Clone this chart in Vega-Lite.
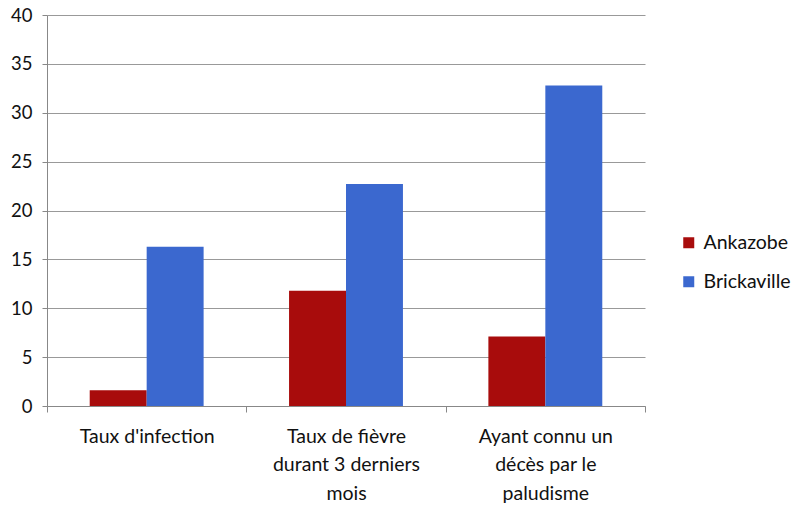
{
  "$schema": "https://vega.github.io/schema/vega-lite/v6.json",
  "width": 598,
  "height": 391,
  "autosize": {"type": "none"},
  "padding": {"left": 47, "top": 15, "right": 153, "bottom": 101},
  "background": "white",
  "config": {
    "font": "Lato",
    "view": {"stroke": null}
  },
  "data": {
    "values": [
      {"categorie": "Taux d'infection", "zone": "Ankazobe", "valeur": 1.6},
      {"categorie": "Taux d'infection", "zone": "Brickaville", "valeur": 16.3},
      {"categorie": "Taux de fièvre durant 3 derniers mois", "zone": "Ankazobe", "valeur": 11.8},
      {"categorie": "Taux de fièvre durant 3 derniers mois", "zone": "Brickaville", "valeur": 22.7},
      {"categorie": "Ayant connu un décès par le paludisme", "zone": "Ankazobe", "valeur": 7.1},
      {"categorie": "Ayant connu un décès par le paludisme", "zone": "Brickaville", "valeur": 32.8}
    ]
  },
  "mark": {"type": "bar"},
  "encoding": {
    "x": {
      "field": "categorie",
      "type": "nominal",
      "sort": null,
      "scale": {"paddingInner": 0, "paddingOuter": 0},
      "axis": {
        "title": null,
        "labelAngle": 0,
        "labelFontSize": 19.5,
        "labelColor": "#111",
        "labelLineHeight": 28.5,
        "labelPadding": 15,
        "labelBaseline": "top",
        "labelExpr": "datum.value == \"Taux d'infection\" ? \"Taux d'infection\" : (datum.value == 'Taux de fièvre durant 3 derniers mois' ? ['Taux de fièvre', 'durant 3 derniers', 'mois'] : (datum.value == 'Ayant connu un décès par le paludisme' ? ['Ayant connu un', 'décès par le', 'paludisme'] : ''))",
        "tickBand": "extent",
        "tickSize": 6,
        "tickColor": "#888",
        "domainColor": "#888",
        "domainWidth": 1
      }
    },
    "xOffset": {
      "field": "zone",
      "type": "nominal",
      "scale": {"paddingInner": 0, "paddingOuter": 0.75}
    },
    "y": {
      "field": "valeur",
      "type": "quantitative",
      "scale": {"domain": [0, 40], "nice": false},
      "axis": {
        "title": null,
        "values": [0, 5, 10, 15, 20, 25, 30, 35, 40],
        "labelFontSize": 18.5,
        "labelColor": "#111",
        "labelPadding": 10,
        "tickSize": 5,
        "tickColor": "#888",
        "domainColor": "#888",
        "gridColor": "#999",
        "gridWidth": 1
      }
    },
    "color": {
      "field": "zone",
      "type": "nominal",
      "scale": {"domain": ["Ankazobe", "Brickaville"], "range": ["#A80C0C", "#3B68CF"]},
      "legend": {
        "title": null,
        "orient": "none",
        "legendX": 632,
        "legendY": 218,
        "symbolType": "square",
        "symbolSize": 121,
        "symbolStrokeWidth": 0,
        "labelFontSize": 19.5,
        "labelColor": "#111",
        "labelOffset": 5,
        "rowPadding": 18
      }
    }
  }
}
